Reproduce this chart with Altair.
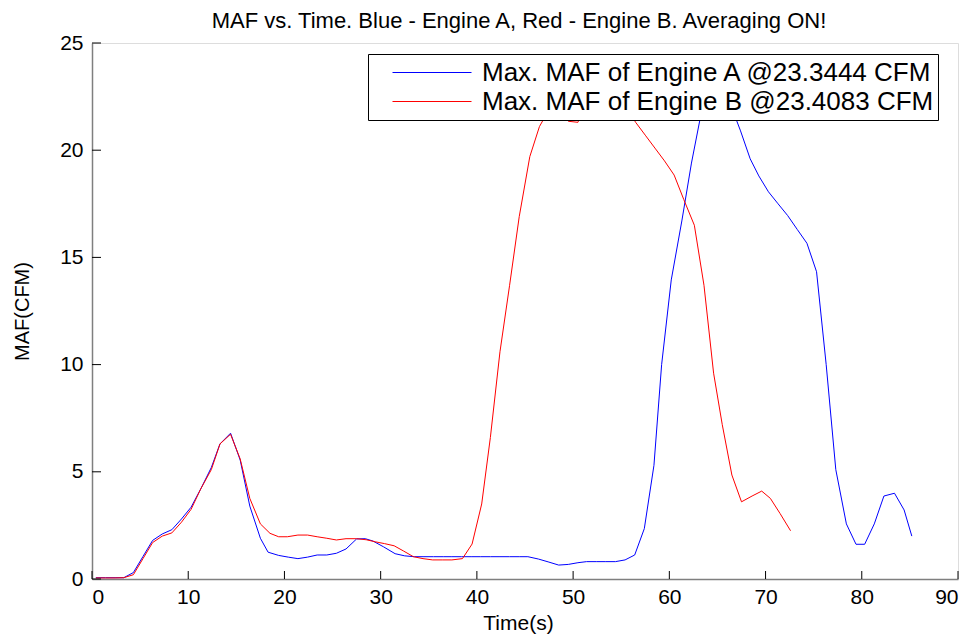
import altair as alt
import pandas as pd

TITLE = "MAF vs. Time. Blue - Engine A, Red - Engine B. Averaging ON!"
SERIES_A = "Max. MAF of Engine A @23.3444 CFM"
SERIES_B = "Max. MAF of Engine B @23.4083 CFM"

a_time = [0.4, 1.4, 2.4, 3.3, 4.3, 5.3, 6.3, 7.3, 8.3, 9.3, 10.3, 11.3, 12.4, 13.3, 14.4,
          15.4, 16.4, 17.5, 18.3, 19.4, 20.4, 21.4, 22.4, 23.4, 24.4, 25.4, 26.4, 27.5,
          28.4, 29.2, 30.3, 31.5, 32.5, 33.5, 34.5, 35.5, 36.5, 37.4, 38.4, 39.4, 40.4,
          41.4, 42.4, 43.4, 44.4, 45.3, 46.4, 47.4, 48.5, 49.5, 50.5, 51.4, 52.4, 53.4,
          54.4, 55.4, 56.4, 57.4, 58.4, 59.2, 60.2, 61.3, 62.3, 63.3, 64.3, 65.3, 66.3,
          67.4, 68.4, 69.3, 70.3, 71.3, 72.3, 73.3, 74.3, 75.3, 76.3, 77.3, 78.4, 79.4,
          80.3, 81.3, 82.3, 83.4, 84.4, 85.2]
a_maf = [0.06, 0.06, 0.06, 0.06, 0.3, 1.05, 1.8, 2.1, 2.3, 2.8, 3.35, 4.2, 5.2, 6.3, 6.8,
         5.55, 3.4, 1.9, 1.25, 1.1, 1.02, 0.95, 1.02, 1.12, 1.12, 1.2, 1.4, 1.87,
         1.88, 1.77, 1.5, 1.18, 1.08, 1.04, 1.04, 1.04, 1.04, 1.04, 1.04, 1.04, 1.04,
         1.04, 1.04, 1.04, 1.04, 1.04, 0.93, 0.8, 0.65, 0.68, 0.76, 0.81, 0.81, 0.81,
         0.81, 0.89, 1.12, 2.35, 5.3, 10.0, 13.95, 16.7, 19.4, 21.7, 23.34, 23.0, 22.2,
         20.9, 19.6, 18.8, 18.06, 17.5, 16.95, 16.3, 15.66, 14.33, 10.0, 5.1, 2.57, 1.62,
         1.62, 2.57, 3.87, 4.0, 3.22, 2.0]

b_time = [0.4, 1.4, 2.4, 3.3, 4.3, 5.3, 6.3, 7.3, 8.3, 9.3, 10.3, 11.3, 12.4, 13.3, 14.4,
          15.4, 16.4, 17.5, 18.5, 19.4, 20.3, 21.4, 22.4, 23.4, 24.4, 25.4, 26.4, 27.5,
          28.5, 29.5, 30.4, 31.4, 32.4, 33.4, 34.4, 35.4, 36.4, 37.4, 38.5, 39.5, 40.5,
          41.4, 42.4, 43.4, 44.4, 45.5, 46.5, 47.5, 48.5, 49.5, 50.5, 51.5, 52.5, 53.5,
          54.5, 55.5, 56.5, 57.5, 58.5, 59.5, 60.5, 61.5, 62.6, 63.6, 64.6, 65.5, 66.5,
          67.5, 68.6, 69.6, 70.5, 71.5, 72.6]
b_maf = [0.05, 0.05, 0.05, 0.06, 0.2, 0.95, 1.7, 2.0, 2.15, 2.65, 3.25, 4.2, 5.1, 6.3, 6.75,
         5.6, 3.76, 2.57, 2.13, 1.97, 1.97, 2.05, 2.05, 1.97, 1.9, 1.82, 1.88, 1.88,
         1.83, 1.73, 1.65, 1.55, 1.3, 1.04, 0.95, 0.89, 0.89, 0.89, 0.95, 1.63, 3.5,
         6.6, 10.6, 13.7, 16.9, 19.7, 21.1, 21.9, 22.0, 21.35, 21.3, 22.5, 23.41, 23.0,
         22.6, 22.0, 21.3, 20.7, 20.1, 19.5, 18.84, 17.7, 16.5, 13.7, 9.6, 7.2, 4.85,
         3.6, 3.87, 4.1, 3.76, 3.06, 2.25]

x_ticks = [0, 10, 20, 30, 40, 50, 60, 70, 80, 90]
y_ticks = [0, 5, 10, 15, 20, 25]

FONT = "Liberation Sans"
W, H = 866, 536

rows = []
for i, (t, v) in enumerate(zip(a_time, a_maf)):
    rows.append({"t": t, "maf": v, "series": SERIES_A, "order": i})
for i, (t, v) in enumerate(zip(b_time, b_maf)):
    rows.append({"t": t, "maf": v, "series": SERIES_B, "order": i})
df = pd.DataFrame(rows)

xscale = alt.Scale(domain=[0, 90], nice=False, zero=False)
yscale = alt.Scale(domain=[0, 25], nice=False, zero=False)

lines = alt.Chart(df).mark_line(strokeWidth=1, clip=True).encode(
    x=alt.X("t:Q", scale=xscale, axis=alt.Axis(
        title="Time(s)", values=x_ticks, ticks=False, grid=False,
        domainColor="#7f7f7f", domainWidth=1.5,
        labelFont=FONT, labelFontSize=21, labelColor="#000000", labelPadding=7,
        titleFont=FONT, titleFontSize=21, titleFontWeight="normal", titleColor="#000000",
        titleX=426, titleY=50, titleBaseline="alphabetic")),
    y=alt.Y("maf:Q", scale=yscale, axis=alt.Axis(
        title="MAF(CFM)", values=y_ticks, ticks=False, grid=False,
        domainColor="#7f7f7f", domainWidth=1.5,
        labelFont=FONT, labelFontSize=21, labelColor="#000000", labelPadding=9,
        titleFont=FONT, titleFontSize=20, titleFontWeight="normal", titleColor="#000000",
        titleX=-64, titleY=268, titleAngle=-90, titleAlign="center",
        titleBaseline="alphabetic")),
    color=alt.Color("series:N",
                    scale=alt.Scale(domain=[SERIES_A, SERIES_B], range=["#0000ff", "#ff0000"]),
                    legend=alt.Legend(
                        title=None, orient="none", legendX=276, legendY=11,
                        fillColor="#ffffff", strokeColor="#000000",
                        padding=4, symbolType="stroke", symbolSize=6241,
                        symbolStrokeWidth=1, symbolOffset=20, clipHeight=29,
                        labelOffset=10, labelFont=FONT, labelFontSize=26,
                        labelColor="#000000", labelLimit=700, rowPadding=0)),
    order=alt.Order("order:Q"),
)

xt = pd.DataFrame({"v": x_ticks})
yt = pd.DataFrame({"v": y_ticks})

xtick_rules = alt.Chart(xt).mark_rule(color="#000000", strokeWidth=1).encode(
    x=alt.X("v:Q", scale=xscale),
    y=alt.value(H),
    y2=alt.value(H - 8),
)
ytick_rules = alt.Chart(yt).mark_rule(color="#000000", strokeWidth=1).encode(
    y=alt.Y("v:Q", scale=yscale),
    x=alt.value(0),
    x2=alt.value(9),
)

title_text = alt.Chart(pd.DataFrame({"label": [TITLE]})).mark_text(
    font=FONT, fontSize=22, color="#000000", align="center", baseline="alphabetic"
).encode(
    text="label:N",
    x=alt.value(427),
    y=alt.value(-15),
)

chart = alt.layer(lines, xtick_rules, ytick_rules, title_text).properties(
    width=W, height=H,
    padding={"left": 84, "top": 35, "right": 7, "bottom": 57},
    autosize=alt.AutoSizeParams(type="none"),
).configure_view(stroke=None).configure(background="#ffffff")

chart.save("out.html", embed_options={"renderer": "svg", "actions": False})
